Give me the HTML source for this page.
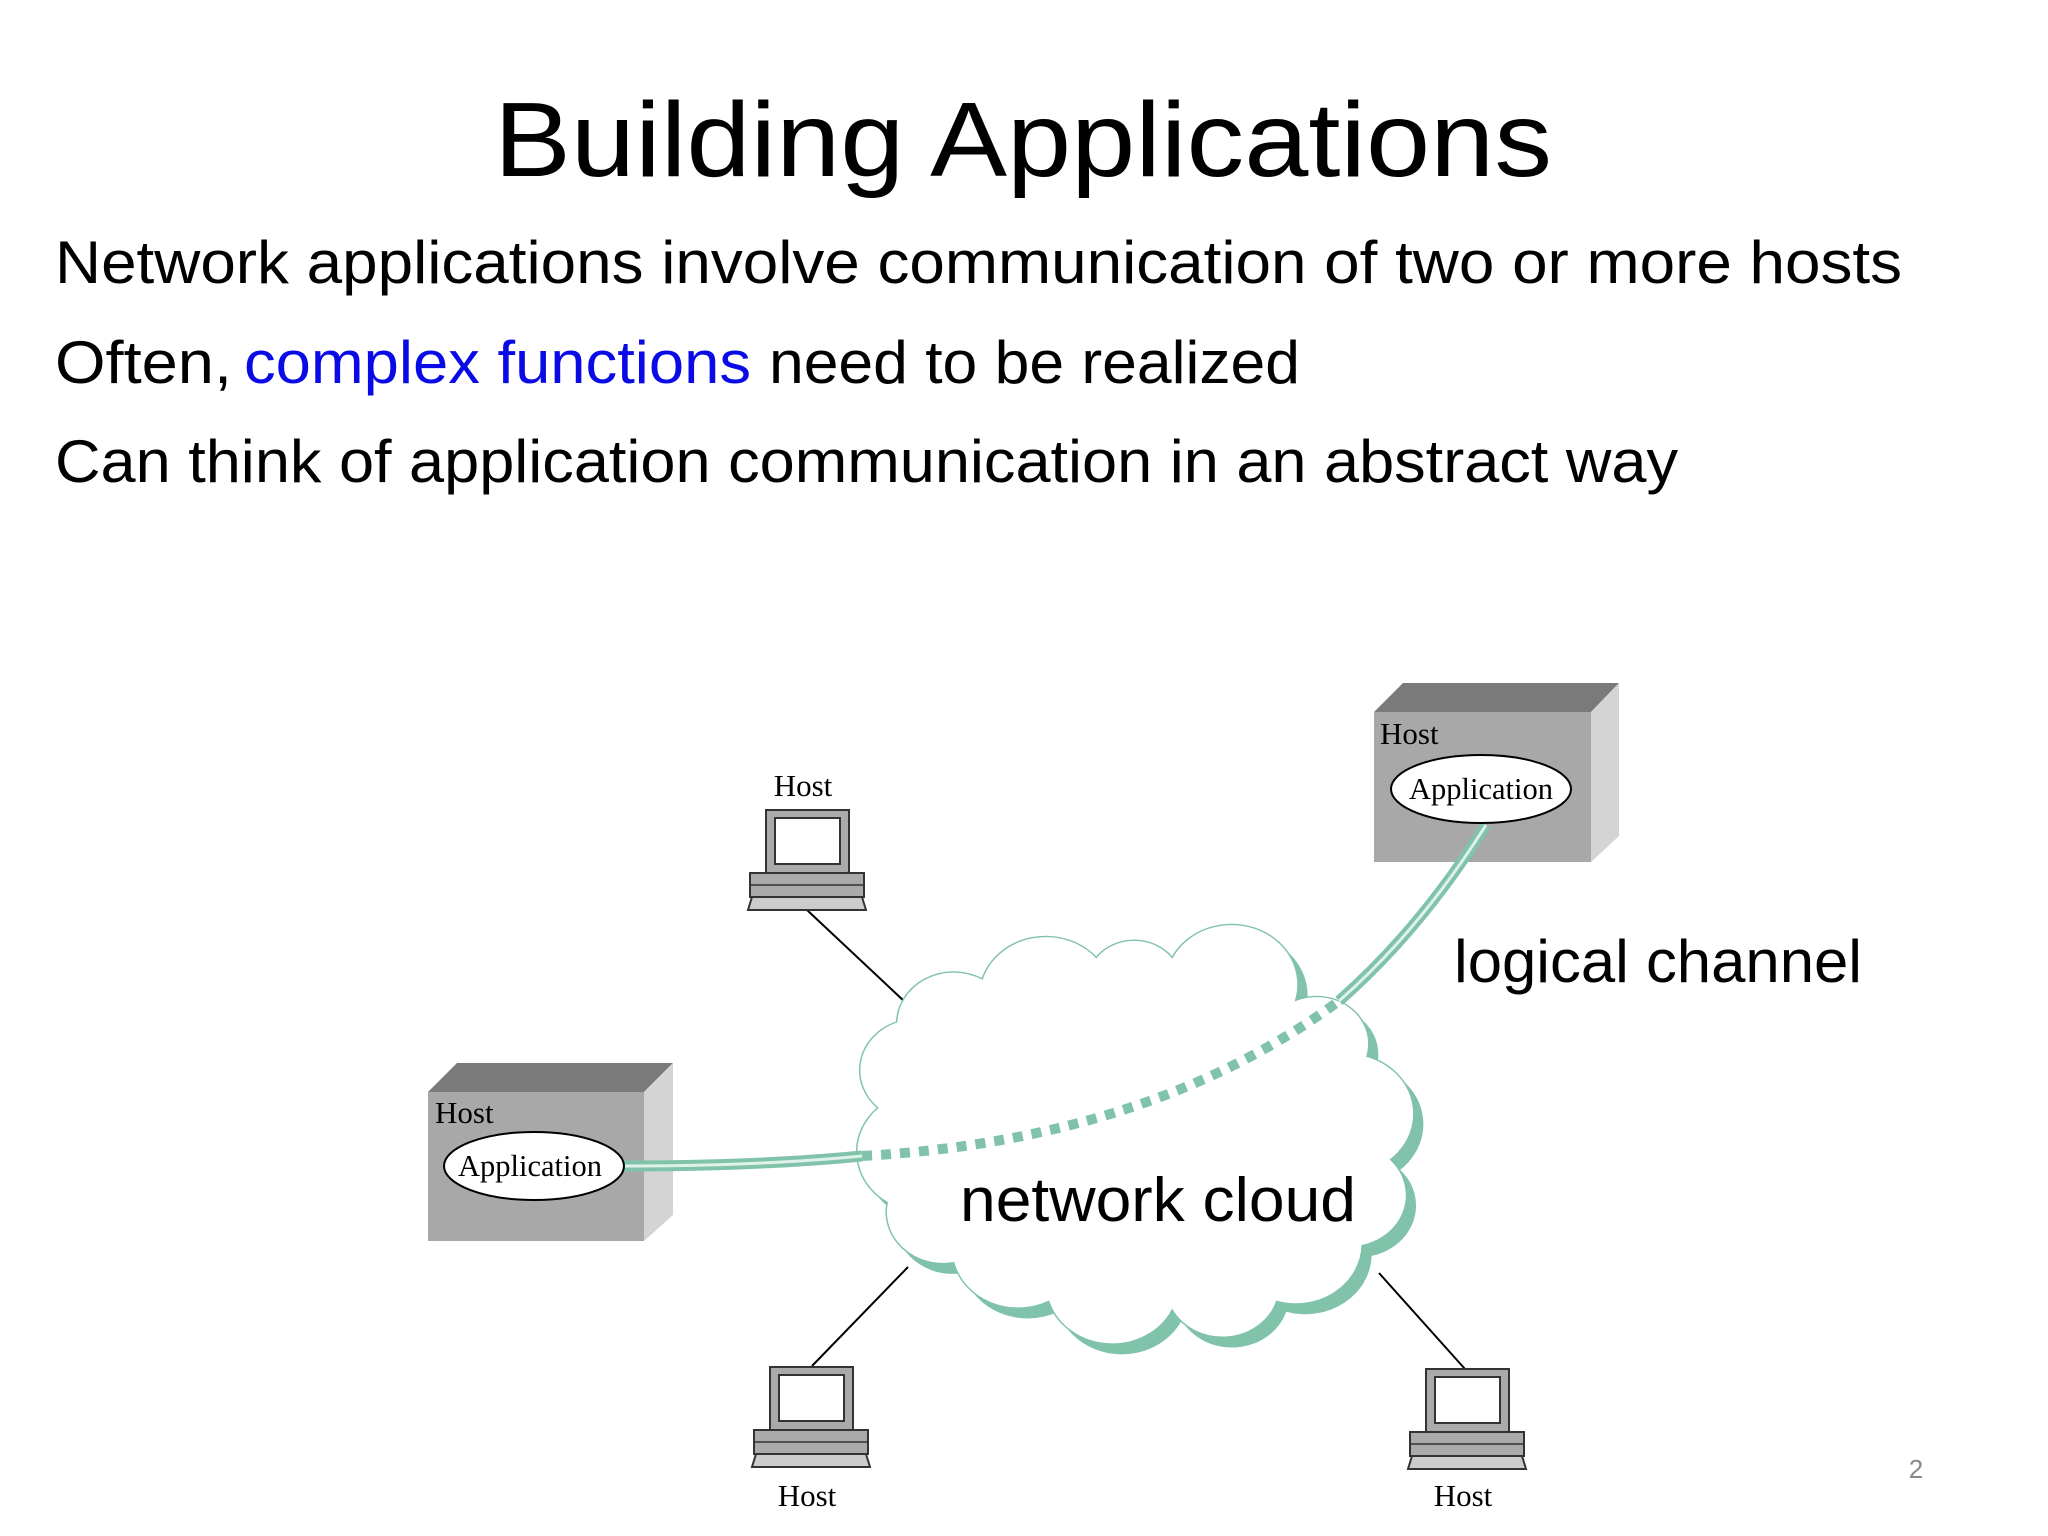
<!DOCTYPE html>
<html><head><meta charset="utf-8"><style>
html,body{margin:0;padding:0;background:#fff;width:2048px;height:1536px;overflow:hidden}
svg{display:block}
</style></head><body>
<svg width="2048" height="1536" viewBox="0 0 2048 1536" xmlns="http://www.w3.org/2000/svg">
<defs>
<g id="pc">
<rect x="18" y="0" width="83" height="63" fill="#aaa" stroke="#333" stroke-width="2"/>
<rect x="27" y="8" width="65" height="46" fill="#fff" stroke="#333" stroke-width="2"/>
<rect x="2" y="63" width="114" height="24" fill="#aaa" stroke="#333" stroke-width="2"/>
<path d="M2 75 H116" stroke="#333" stroke-width="1.5"/>
<path d="M4 87 H114 L118 100 H0 Z" fill="#ccc" stroke="#333" stroke-width="2"/>
</g>
<path id="cl" d="M 890 1010 A 60 60 0 0 1 980 960 A 70 70 0 0 1 1100 935 A 50 50 0 0 1 1180 935 A 70 70 0 0 1 1310 985 A 55 55 0 0 1 1385 1050 A 70 70 0 0 1 1410 1170 A 60 60 0 0 1 1380 1270 A 70 70 0 0 1 1290 1335 A 60 60 0 0 1 1180 1345 A 70 70 0 0 1 1050 1335 A 70 70 0 0 1 950 1290 A 60 60 0 0 1 880 1220 A 70 70 0 0 1 870 1110 A 60 60 0 0 1 890 1010 Z"/>
</defs>
<g font-family="'Liberation Sans',sans-serif" fill="#000">
<text x="1023" y="176" font-size="106" text-anchor="middle" textLength="1058" lengthAdjust="spacingAndGlyphs">Building Applications</text>
<text x="55" y="283" font-size="60" textLength="1847" lengthAdjust="spacingAndGlyphs">Network applications involve communication of two or more hosts</text>
<text x="55" y="383" font-size="60" textLength="177" lengthAdjust="spacingAndGlyphs">Often,</text>
<text x="244" y="383" font-size="60" fill="#0a0ae6" textLength="507" lengthAdjust="spacingAndGlyphs">complex functions</text>
<text x="769" y="383" font-size="60" textLength="531" lengthAdjust="spacingAndGlyphs">need to be realized</text>
<text x="55" y="482" font-size="60" textLength="1623" lengthAdjust="spacingAndGlyphs">Can think of application communication in an abstract way</text>
<text x="1454" y="982" font-size="60" textLength="408" lengthAdjust="spacingAndGlyphs">logical channel</text>
<text x="1916" y="1478" font-size="26" fill="#888" text-anchor="middle">2</text>
</g>
<g stroke="#000" stroke-width="2">
<line x1="807" y1="910" x2="905" y2="1002"/>
<line x1="812" y1="1366" x2="908" y2="1267"/>
<line x1="1465" y1="1369" x2="1379" y2="1273"/>
</g>
<g transform="translate(1138,1138) scale(0.95,0.86) translate(-1144,-1145)">
<use href="#cl" transform="translate(10,12)" fill="#80c2aa"/>
<use href="#cl" fill="#fff" stroke="#80c2aa" stroke-width="1.6"/>
</g>
<text x="960" y="1221" font-family="'Liberation Sans',sans-serif" font-size="62" textLength="396" lengthAdjust="spacingAndGlyphs">network cloud</text>
<polygon points="1374,712 1403,683 1619,683 1591,712" fill="#7a7a7a"/>
<polygon points="1591,712 1619,683 1619,836 1591,862" fill="#d4d4d4"/>
<rect x="1374" y="712" width="217" height="150" fill="#a8a8a8"/>
<polygon points="428,1092 457,1063 673,1063 644,1092" fill="#7a7a7a"/>
<polygon points="644,1092 673,1063 673,1215 644,1241" fill="#d4d4d4"/>
<rect x="428" y="1092" width="216" height="149" fill="#a8a8a8"/>
<path d="M862 1156 Q1150 1140 1339 1001" fill="none" stroke="#80c2aa" stroke-width="10" stroke-dasharray="10 9"/>
<path d="M624 1166 Q760 1166 862 1156" fill="none" stroke="#80c2aa" stroke-width="11"/>
<path d="M624 1166 Q760 1166 862 1156" fill="none" stroke="#dff2ea" stroke-width="3"/>
<path d="M1339 1001 Q1420 930 1486 825" fill="none" stroke="#80c2aa" stroke-width="11"/>
<path d="M1339 1001 Q1420 930 1486 825" fill="none" stroke="#dff2ea" stroke-width="3"/>
<g font-family="'Liberation Serif',serif" font-size="31" fill="#000">
<text x="1380" y="744">Host</text>
<text x="435" y="1123">Host</text>
<ellipse cx="1481" cy="789" rx="90" ry="34" fill="#fff" stroke="#000" stroke-width="2"/>
<text x="1481" y="799" text-anchor="middle" textLength="144" lengthAdjust="spacingAndGlyphs">Application</text>
<ellipse cx="534" cy="1166" rx="90" ry="34" fill="#fff" stroke="#000" stroke-width="2"/>
<text x="530" y="1176" text-anchor="middle" textLength="144" lengthAdjust="spacingAndGlyphs">Application</text>
<text x="803" y="796" text-anchor="middle">Host</text>
<text x="807" y="1506" text-anchor="middle">Host</text>
<text x="1463" y="1506" text-anchor="middle">Host</text>
</g>
<use href="#pc" x="748" y="810"/>
<use href="#pc" x="752" y="1367"/>
<use href="#pc" x="1408" y="1369"/>
</svg>
</body></html>
